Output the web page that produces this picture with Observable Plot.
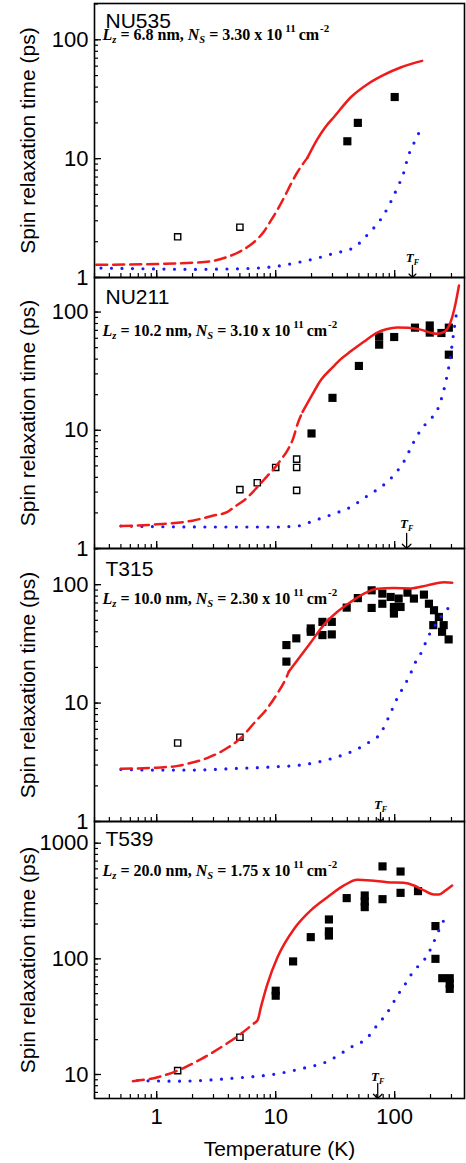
<!DOCTYPE html>
<html><head><meta charset="utf-8">
<script src="https://cdn.jsdelivr.net/npm/d3@7"></script>
<script src="https://cdn.jsdelivr.net/npm/@observablehq/plot@0.6"></script>
<style>
html,body{margin:0;padding:0;background:#fff;}
#chart{position:relative;width:466px;height:1163px;}
#chart svg{position:absolute;left:0;top:0;}
</style></head><body><div id="chart"></div>
<script>
// ---------- text / labels ----------
const samples = ["NU535", "NU211", "T315", "T539"];
const wellWidths = ["6.8", "10.2", "10.0", "20.0"];
const densities = ["3.30", "3.10", "2.30", "1.75"];
const fermiTemps = [141, 126, 76, 72];
const xTickLabels = [1, 10, 100];
const yTickLabels = [[1, 10, 100], [1, 10, 100], [1, 10, 100], [10, 100, 1000]];
const yLabel = "Spin relaxation time (ps)";
const xLabel = "Temperature (K)";

// ---------- NU535 ----------
const nu535Open = [[1.5, 2.2], [5, 2.65]];
const nu535Filled = [[40, 14], [49, 20], [100, 33]];
const nu535RedDash = [[0.31, 1.28], [1, 1.3], [2, 1.33], [3, 1.38], [4, 1.5], [5, 1.65], [6, 1.85], [7, 2.1], [8, 2.45], [9, 2.95], [10.4, 3.75], [12, 4.9], [13.4, 6.1], [15, 7.5], [16.5, 8.7], [18.5, 10.2]];
const nu535RedSolid = [[18.5, 10.2], [22.4, 14.6], [26, 18.3], [31, 22.5], [43, 33], [59, 42.3], [81, 50.7], [112, 58.5], [140, 63], [170, 66.5]];
const nu535Blue = [[0.34, 1.2], [1, 1.18], [2, 1.17], [4, 1.18], [7, 1.2], [10, 1.24], [16, 1.35], [22, 1.45], [31, 1.6], [45, 1.78], [59, 2.29], [81, 3.38], [105, 5.67], [120, 7.8], [128, 10], [145, 13.5], [160, 16.5]];

// ---------- NU211 ----------
const nu211Open = [[5, 3.15], [7, 3.6], [10, 4.85], [15, 5.7], [15, 4.85], [15, 3.1]];
const nu211Filled = [[20, 9.4], [30, 18.8], [50, 35], [74, 62], [74, 53], [99, 61.5], [148, 73.8], [197, 77], [197, 67], [247, 66.5], [285, 73.8], [285, 43.6]];
const nu211RedDash = [[0.5, 1.55], [1, 1.6], [2, 1.72], [3, 1.9], [3.94, 2.04], [4.5, 2.25], [5.44, 2.56], [7, 3.3], [8.5, 4.1], [9.7, 4.74], [11, 5.6], [12.6, 6.8], [14, 8.5], [15.3, 11.4], [16.8, 14.3]];
const nu211RedSolid = [[16.8, 14.3], [20, 19.5], [23.9, 26.5], [30, 34], [35.2, 40], [42.7, 46.5], [55, 56], [71.4, 67], [85, 71.5], [105, 74], [130, 73.5], [165, 71], [200, 67], [227, 65.5], [258, 67.5], [292, 80], [324, 117], [347, 168]];
const nu211Blue = [[0.5, 1.55], [1, 1.53], [3, 1.52], [10, 1.52], [16, 1.56], [19.7, 1.68], [30, 1.95], [44, 2.28], [55, 2.66], [68, 3.05], [84, 3.56], [102, 4.36], [119, 5.4], [144, 7.9], [165, 10], [192, 12], [228, 14.8], [245, 18], [267, 25], [290, 38], [315, 70], [336, 110]];

// ---------- T315 ----------
const t315Open = [[1.5, 4.6], [5, 5.15]];
const t315Filled = [[12.3, 30.9], [12.3, 22.4], [14.9, 35.2], [19.7, 42.7], [19.7, 40], [24.7, 48.5], [24.7, 37.5], [29.6, 48.5], [29.6, 38], [39.5, 64], [49, 77], [64, 89.6], [64, 63.6], [78.7, 84], [78.7, 69], [92.5, 78.7], [98.5, 64.8], [98.5, 57], [108, 76.3], [112, 64.8], [128, 85.6], [145, 76.3], [176, 82.4], [194, 69], [214, 60.8], [211, 45.5], [235, 53.4], [258, 45.5], [250, 40], [284, 34.5]];
const t315RedDash = [[0.5, 2.79], [1, 2.85], [1.5, 2.95], [2, 3.15], [2.68, 3.45], [3.94, 4.19], [5.1, 5.08], [6.59, 6.79], [8.53, 9.08], [10.35, 12.1], [12.2, 16.2], [12.9, 18.5]];
const t315RedSolid = [[12.9, 18.5], [15.2, 23], [19.7, 32.5], [25.5, 46], [33, 59], [42.7, 71.4], [55.2, 84], [71.4, 92.5], [98.5, 93.6], [136, 93], [188, 98.6], [259, 105], [305, 104]];
const t315Blue = [[0.5, 2.75], [1, 2.72], [2, 2.72], [4.5, 2.8], [10, 2.9], [16.3, 3.0], [31, 3.45], [45, 3.95], [59.4, 4.6], [76.4, 5.6], [89.5, 7.7], [105, 11], [125, 15], [138, 18.4], [151, 22.6], [170, 27.5], [188, 35.2], [214, 44], [250, 55], [284, 64]];

// ---------- T539 ----------
const t539Open = [[1.5, 10.8], [5, 21]];
const t539Filled = [[10, 53], [10, 48], [14, 95], [19.7, 154], [28, 219], [28, 173], [28, 159], [39.5, 335], [56, 353], [56, 313], [56, 280], [79, 630], [79, 328], [112, 569], [112, 372], [157, 385], [220, 192], [220, 100], [251, 68], [290, 68], [290, 61], [290, 55]];
const t539RedDash = [[0.63, 8.75], [1.02, 9.48], [1.5, 10.8], [2.36, 13.6], [3.94, 18.7], [5.1, 22.5], [6.6, 27.8]];
const t539RedSolid = [[6.6, 27.8], [7.05, 29.5], [7.5, 38], [8.53, 60.8], [10.35, 103], [14.3, 182], [19.7, 262], [27.2, 341], [37.5, 431], [48.5, 482], [62.8, 476], [86.7, 460], [119, 455], [145, 431], [176, 390], [213, 360], [235, 360], [267, 390], [304, 431]];
const t539Blue = [[0.69, 8.87], [1.5, 8.75], [4.5, 9.3], [10, 10.1], [16.3, 11.2], [27.3, 13], [42.8, 17.2], [59.4, 21], [69, 25.6], [81, 31.3], [92.5, 38], [105, 48], [119, 57.5], [136, 72], [159, 87.5], [188, 107], [213, 140], [243, 190], [272, 237]];

const series = [
  {open: nu535Open, filled: nu535Filled, dash: nu535RedDash, solid: nu535RedSolid, blue: nu535Blue},
  {open: nu211Open, filled: nu211Filled, dash: nu211RedDash, solid: nu211RedSolid, blue: nu211Blue},
  {open: t315Open, filled: t315Filled, dash: t315RedDash, solid: t315RedSolid, blue: t315Blue},
  {open: t539Open, filled: t539Filled, dash: t539RedDash, solid: t539RedSolid, blue: t539Blue}
];

// ---------- layout (positions / styles) ----------
const W = 466, H = 1163;
const xDomain = [0.3, 386];
const layout = [
  {top: 3, bottom: 277, yDomain: [1, 202], titleDy: 24, annotDy: 36, tfText: 16, tfArrow: 12},
  {top: 277, bottom: 548, yDomain: [1, 196], titleDy: 26, annotDy: 58, tfText: 21, tfArrow: 15},
  {top: 548, bottom: 821, yDomain: [1, 202], titleDy: 27, annotDy: 55, tfText: 13, tfArrow: 9},
  {top: 821, bottom: 1098, yDomain: [6.2, 1540], titleDy: 24, annotDy: 54, tfText: 18, tfArrow: 15}
];
const SANS = "'Liberation Sans', Arial, Helvetica, sans-serif";
const SERIF = "'Liberation Serif', 'Times New Roman', serif";
const RED = "#ee1b1b", BLUE = "#1c1cf0";

function logTicks([lo, hi], majorOnly) {
  const out = [];
  for (let e = Math.floor(Math.log10(lo)); e <= Math.ceil(Math.log10(hi)); e++)
    for (let m = 1; m < 10; m++) {
      if (majorOnly && m !== 1) continue;
      const v = +(m * Math.pow(10, e)).toPrecision(6);
      if (v >= lo && v <= hi) out.push(v);
    }
  return out;
}

const X = d => d[0], Y = d => d[1];

function panel(i) {
  const L = layout[i], S = series[i], last = i === layout.length - 1;
  const marks = [
    Plot.frame({stroke: "#000", strokeWidth: 1.6}),
    Plot.axisX({ticks: logTicks(xDomain), tickSize: -4, fill: "none", stroke: "#000", strokeWidth: 1.2, label: null}),
    Plot.axisX({ticks: logTicks(xDomain, true), tickSize: -7, fill: "none", stroke: "#000", strokeWidth: 1.3, label: null}),
    Plot.axisY({ticks: logTicks(L.yDomain), tickSize: -4, fill: "none", stroke: "#000", strokeWidth: 1.2, label: null}),
    Plot.axisY({ticks: logTicks(L.yDomain, true), tickSize: -7, fill: "none", stroke: "#000", strokeWidth: 1.3, label: null}),
    Plot.axisY({ticks: yTickLabels[i], tickSize: 0, tickPadding: 6, tickFormat: d => String(d), fontSize: 22, fill: "#000", label: null}),
    Plot.text([yLabel], {frameAnchor: "left", dx: -66.5, rotate: -90, textAnchor: "middle", text: d => d, fontSize: 21, lineAnchor: "middle", fill: "#000"}),
    Plot.text([samples[i]], {frameAnchor: "top-left", dx: 11, dy: L.titleDy, lineAnchor: "bottom", textAnchor: "start", text: d => d, fontSize: 21, fill: "#000"}),
    Plot.text([i], {frameAnchor: "top-left", dx: 8, dy: L.annotDy, lineAnchor: "bottom", textAnchor: "start",
      text: d => `L_z = ${wellWidths[d]} nm, N_S = ${densities[d]} x 10^11 cm^-2`,
      fontFamily: SERIF, fontWeight: "bold", fontSize: 16, fill: "#000"}),
    Plot.dot(S.filled, {x: X, y: Y, symbol: "square", r: 4.6, fill: "#000", stroke: "none"}),
    Plot.dot(S.open, {x: X, y: Y, symbol: "square", r: 3.5, fill: "#fff", stroke: "#000", strokeWidth: 1.4}),
    Plot.line(S.blue, {x: X, y: Y, stroke: BLUE, strokeWidth: 3.2, strokeDasharray: "0 10.5", strokeLinecap: "round", curve: "monotone-x"}),
    Plot.line(S.dash, {x: X, y: Y, stroke: RED, strokeWidth: 2.5, strokeDasharray: "11 6", curve: "monotone-x"}),
    Plot.line(S.solid, {x: X, y: Y, stroke: RED, strokeWidth: 2.5, curve: "monotone-x"}),
    Plot.vector([fermiTemps[i]], {x: d => d, y: () => L.yDomain[0], rotate: 180, anchor: "end", length: L.tfArrow, r: 5, stroke: "#000", strokeWidth: 1.3}),
    Plot.text([fermiTemps[i]], {x: d => d, frameAnchor: "bottom", dy: -L.tfText, lineAnchor: "bottom", text: () => "T_F",
      fontFamily: SERIF, fontWeight: "bold", fontStyle: "italic", fontSize: 13, fill: "#000"})
  ];
  if (last) {
    marks.push(
      Plot.axisX({ticks: xTickLabels, tickSize: 0, tickPadding: 10, tickFormat: d => String(d), fontSize: 22, fill: "#000", label: null}),
      Plot.text([xLabel], {frameAnchor: "bottom", dy: 57, lineAnchor: "bottom", textAnchor: "middle", text: d => d, fontSize: 21, fill: "#000"})
    );
  }
  const svg = Plot.plot({
    width: W, height: H,
    marginLeft: 94, marginRight: W - 464, marginTop: L.top, marginBottom: H - L.bottom,
    x: {type: "log", domain: xDomain},
    y: {type: "log", domain: L.yDomain},
    style: {fontFamily: SANS, fontSize: "21px", background: "transparent", color: "#000", overflow: "visible"},
    marks
  });
  enrich(svg, i);
  return svg;
}

const NS = "http://www.w3.org/2000/svg";
function rich(el, parts) {
  el.textContent = "";
  let shift = 0;
  for (const p of parts) {
    const ts = document.createElementNS(NS, "tspan");
    const target = p.shift || 0;
    ts.setAttribute("dy", target - shift);
    shift = target;
    if (p.dx) ts.setAttribute("dx", p.dx);
    if (p.italic) ts.setAttribute("font-style", "italic");
    if (p.size) ts.setAttribute("font-size", p.size);
    ts.textContent = p.t;
    el.appendChild(ts);
  }
}
function enrich(svg, i) {
  svg.querySelectorAll("text").forEach(el => {
    const s = el.textContent;
    if (s.startsWith("L_z")) {
      rich(el, [
        {t: "L", italic: 1}, {t: "z", italic: 1, shift: 3, size: 10.5},
        {t: ` = ${wellWidths[i]} nm, `},
        {t: "N", italic: 1}, {t: "S", italic: 1, shift: 3.5, size: 10.5},
        {t: ` = ${densities[i]} x 10`},
        {t: "11", shift: -8, size: 11, dx: 3},
        {t: "cm", dx: 3},
        {t: "-2", shift: -8, size: 11, dx: 1}
      ]);
    } else if (s === "T_F") {
      rich(el, [{t: "T", italic: 1}, {t: "F", italic: 1, shift: 3, size: 8}]);
    }
  });
}

const chart = document.getElementById("chart");
for (let i = 0; i < layout.length; i++) chart.appendChild(panel(i));
</script>
</body></html>
